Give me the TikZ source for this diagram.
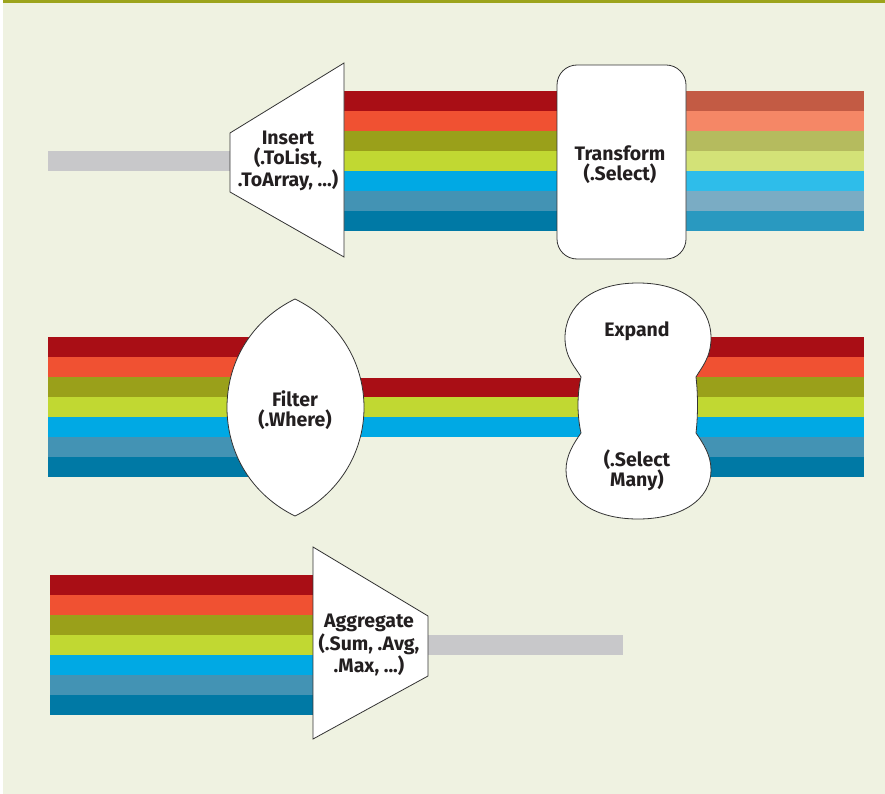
\documentclass[tikz,border=0pt]{standalone}
\usepackage{fontspec}
\setmainfont{Fira Sans}
\definecolor{bg}{HTML}{EFF2E1}
\definecolor{topline}{HTML}{9CA41B}
\definecolor{greybar}{HTML}{C8C8CA}
\definecolor{txt}{HTML}{231F20}
\definecolor{outl}{HTML}{333333}
\definecolor{sa}{HTML}{A90E15}
\definecolor{sb}{HTML}{F05132}
\definecolor{sc}{HTML}{9AA01A}
\definecolor{sd}{HTML}{C1D832}
\definecolor{se}{HTML}{00A9E4}
\definecolor{sf}{HTML}{4393B4}
\definecolor{sg}{HTML}{0079A5}
\definecolor{la}{HTML}{C35B44}
\definecolor{lb}{HTML}{F58766}
\definecolor{lc}{HTML}{B5BB5E}
\definecolor{ld}{HTML}{D3E277}
\definecolor{le}{HTML}{2EBDEA}
\definecolor{lf}{HTML}{7AACC4}
\definecolor{lg}{HTML}{2999C0}
\begin{document}
\begin{tikzpicture}[x=1pt,y=-1pt,
  lbl/.style={font=\bfseries\fontsize{19.5}{20}\selectfont, text=txt, align=center, inner sep=0pt},
  shp/.style={fill=white, draw=outl, line width=0.8pt},
  grey/.style={fill=greybar}]
\useasboundingbox (0,0) rectangle (885,794);
\fill[white] (0,0) rectangle (885,794);
\fill[bg] (2.8,0) rectangle (885,794);
\fill[topline] (2.8,0) rectangle (885,3);

% ---------- Row 1 ----------
\fill[grey] (48,151) rectangle (232,171);
\foreach \c [count=\i from 0] in {sa,sb,sc,sd,se,sf,sg}
  \fill[\c] (344,{91+20*\i}) rectangle (562,{111+20*\i});
\foreach \c [count=\i from 0] in {la,lb,lc,ld,le,lf,lg}
  \fill[\c] (682,{91+20*\i}) rectangle (864,{111+20*\i});
\draw[shp] (230,133) -- (344,63) -- (344,257) -- (230,192) -- cycle;
\node[lbl] (insert) at (288,161) {Insert\\(.ToList,\\.ToArray, ...)};
\node[shp, rounded corners=20pt, minimum width=129pt, minimum height=194pt, inner sep=0pt] (transformbox) at (621.5,162) {};
\node[lbl] (transform) at (620,165) {Transform\\(.Select)};

% ---------- Row 2 ----------
\foreach \c [count=\i from 0] in {sa,sb,sc,sd,se,sf,sg}
  \fill[\c] (48,{337+20*\i}) rectangle (260,{357+20*\i});
\fill[sa] (355,378) rectangle (590,397);
\fill[sd] (355,397) rectangle (590,417);
\fill[se] (355,417) rectangle (590,437);
\foreach \c [count=\i from 0] in {sa,sb,sc,sd,se,sf,sg}
  \fill[\c] (690,{337+20*\i}) rectangle (864,{357+20*\i});
% filter lens
\draw[shp] (295,299) .. controls (252,320) and (227,361.3) .. (227,407.5)
  .. controls (227,453.7) and (252,495) .. (295,516)
  .. controls (338,495) and (364,453.7) .. (364,407.5)
  .. controls (364,361.3) and (338,320) .. (295,299) -- cycle;
\node[lbl] (filter) at (295,410) {Filter\\(.Where)};
% expand peanut
\draw[shp] (638,283) .. controls (683,283) and (711,305) .. (711,338)
  .. controls (711,358) and (701,368) .. (696,377)
  .. controls (698,395) and (698,415) .. (696,433)
  .. controls (703,443) and (711,455) .. (711,470)
  .. controls (711,500) and (681,519) .. (638,519)
  .. controls (595,519) and (566,500) .. (566,470)
  .. controls (566,455) and (574,443) .. (581,433)
  .. controls (577,415) and (577,395) .. (581,377)
  .. controls (576,368) and (565,358) .. (565,338)
  .. controls (565,305) and (593,283) .. (638,283) -- cycle;
\node[lbl] (expand) at (637,331) {Expand};
\node[lbl] (selectmany) at (637,470) {(.Select\\Many)};

% ---------- Row 3 ----------
\foreach \c [count=\i from 0] in {sa,sb,sc,sd,se,sf,sg}
  \fill[\c] (50,{575+20*\i}) rectangle (315,{595+20*\i});
\fill[grey] (425,635) rectangle (623,655);
\draw[shp] (313,547) -- (428,616) -- (428,676) -- (313,739) -- cycle;
\node[lbl] (aggregate) at (369,645) {Aggregate\\(.Sum, .Avg,\\.Max, ...)};
\end{tikzpicture}
\end{document}
